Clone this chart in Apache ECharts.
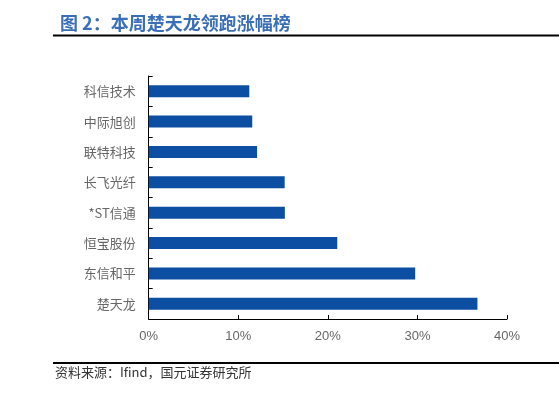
<!DOCTYPE html>
<html><head><meta charset="utf-8">
<script src="https://cdn.jsdelivr.net/npm/echarts@6/dist/echarts.min.js"></script>
<style>html,body{margin:0;padding:0;background:#fff}#c{width:559px;height:397px}</style>
</head><body><div id="c"></div>
<script>
const categories = ['楚天龙','东信和平','恒宝股份','*ST信通','长飞光纤','联特科技','中际旭创','科信技术'];
const values = [36.7, 29.75, 21.05, 15.2, 15.18, 12.1, 11.56, 11.23];
const xTicks = [0, 10, 20, 30, 40];
const titleText = '图 2：本周楚天龙领跑涨幅榜';
const sourceText = '资料来源：Ifind，国元证券研究所';

const chart = echarts.init(document.getElementById('c'));
chart.setOption({
  animation: false,
  title: {
    text: titleText, left: 55, top: 9,
    textStyle: {color: '#3A6FB8', fontSize: 18, fontWeight: 'bold', fontFamily: 'Noto Sans CJK SC'}
  },
  graphic: [
    {type: 'line', shape: {x1: 53, y1: 35.5, x2: 559, y2: 35.5}, style: {stroke: '#000', lineWidth: 2}},
    {type: 'line', shape: {x1: 53, y1: 363, x2: 559, y2: 363}, style: {stroke: '#000', lineWidth: 2}},
    {type: 'text', left: 55, top: 366, style: {text: sourceText, fill: '#333', fontSize: 13, fontFamily: 'Noto Sans CJK SC'}}
  ],
  grid: {left: 148.7, right: 52, top: 76, bottom: 78, containLabel: false},
  xAxis: {
    type: 'value', min: xTicks[0], max: xTicks[xTicks.length-1], interval: 10,
    axisLine: {show: true, lineStyle: {color: '#000', width: 1}},
    axisTick: {show: true, inside: true, length: 4, lineStyle: {color: '#000'}},
    splitLine: {show: false},
    axisLabel: {formatter: '{value}%', color: '#666', fontSize: 13, margin: 11, fontFamily: 'Liberation Sans'}
  },
  yAxis: {
    type: 'category', data: categories,
    axisLine: {show: true, lineStyle: {color: '#000', width: 1}},
    axisTick: {show: true, inside: true, length: 4, lineStyle: {color: '#000'}},
    axisLabel: {color: '#666', fontSize: 13, margin: 13, fontFamily: 'Noto Sans CJK SC'}
  },
  series: [{
    type: 'bar', data: values, barWidth: 12,
    itemStyle: {color: '#0B4EA2'}
  }]
});
</script></body></html>
